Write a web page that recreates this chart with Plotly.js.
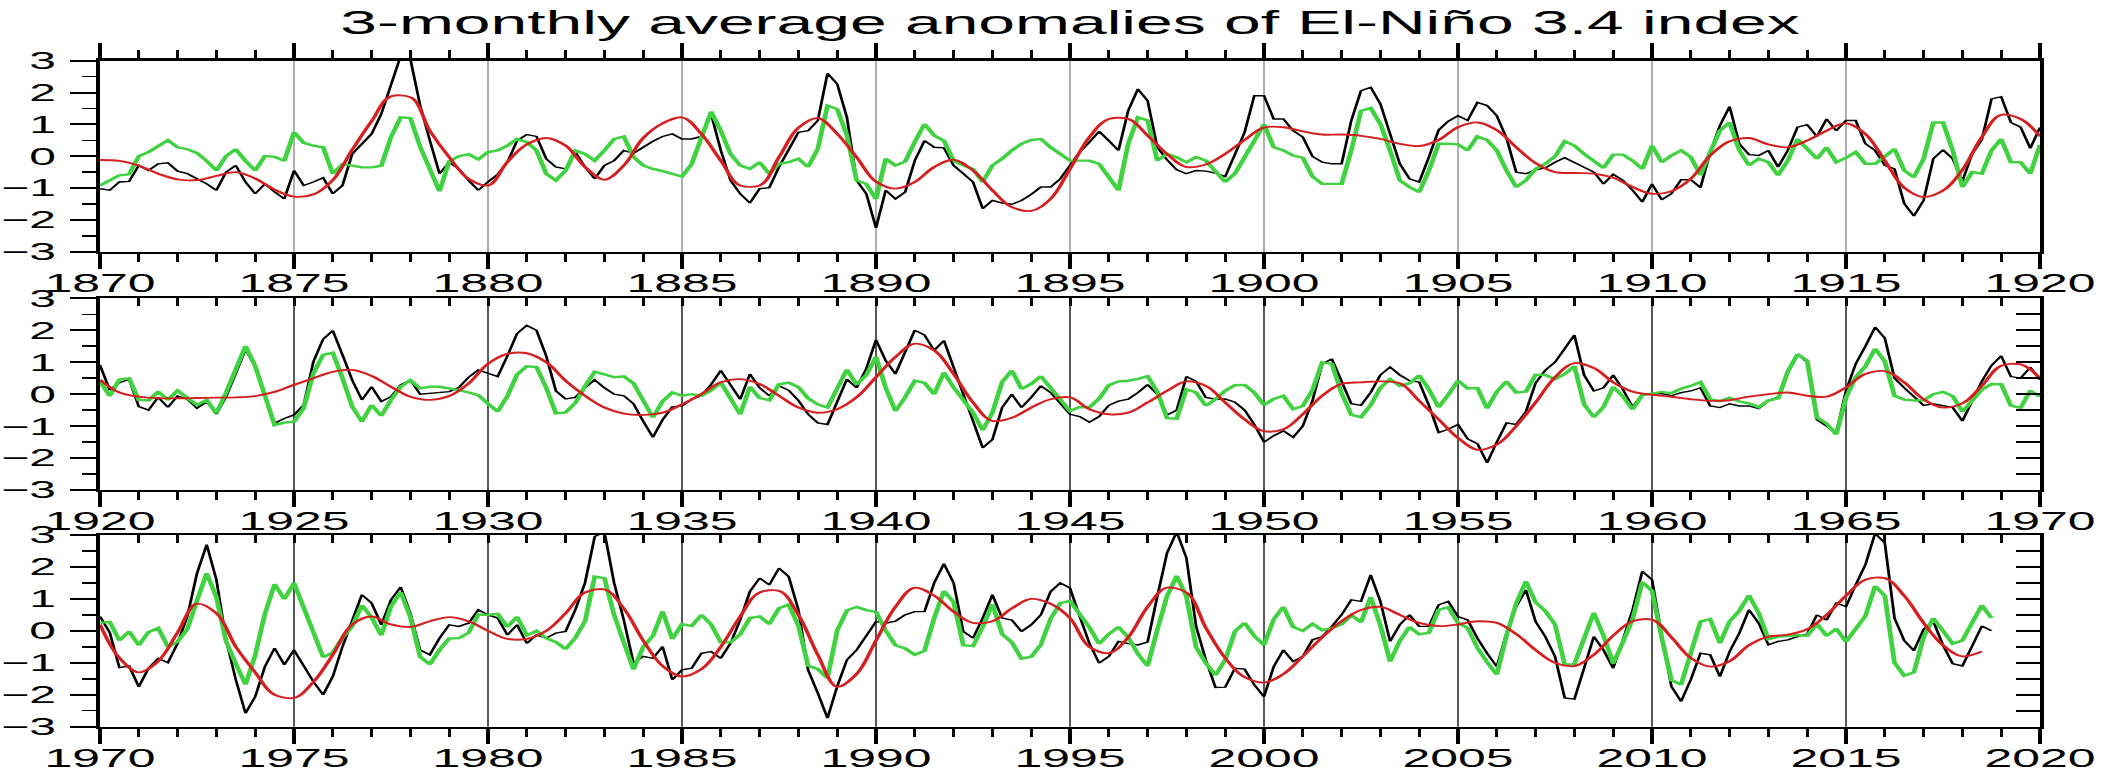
<!DOCTYPE html>
<html>
<head>
<meta charset="utf-8">
<script src="https://cdn.plot.ly/plotly-3.0.1.min.js"></script>
<style>
  html, body { margin: 0; padding: 0; background: #fff; overflow: hidden; }
  /* the figure is laid out at half width and stretched horizontally */
  #chart { width: 1059px; height: 773px; transform: scaleX(2); transform-origin: 0 0; }
</style>
</head>
<body>
<div id="chart"></div>
<script>
// Niño 3.4 3-monthly anomalies (quarterly steps), their low-pass part (half-year steps)
// and the high-pass remainder (quarterly steps), one set per 50-year panel.

const anomaly1870 = [
 -1.02,-1.07,-0.81,-0.79, -0.29,-0.45,-0.24,-0.21, -0.47,-0.55,-0.71,-0.87, -1.07,-0.5,-0.29,-0.81,
 -1.18,-0.87,-1.12,-1.34, -0.45,-0.92,-0.81,-0.68, -1.18,-0.92,0.07,0.39, 0.7,1.33,2.3,3.15,
 3.05,1.6,0.5,-0.55, -0.19,-0.4,-0.76,-1.07, -0.81,-0.57,-0.19,0.49, 0.68,0.62,-0.08,-0.34,
 -0.4,0.13,-0.34,-0.71, -0.29,-0.14,0.18,0.09, 0.28,0.47,0.62,0.7, 0.54,0.54,0.62,1.33,
 0.18,-0.76,-1.18,-1.47, -1.02,-0.99,-0.34,0.18, 0.75,0.8,1.12,2.6, 2.27,1.22,-0.76,-1.18,
 -2.25,-1.07,-1.34,-1.13, -0.14,0.49,0.28,0.26, -0.29,-0.55,-0.81,-1.65, -1.39,-1.47,-1.51,-1.39,
 -1.2,-0.97,-0.97,-0.71, -0.29,0.13,0.44,0.78, 0.49,0.18,1.43,2.11, 1.74,0.28,-0.11,-0.43,
 -0.55,-0.45,-0.47,-0.53, -0.64,0.07,0.75,1.9, 1.9,1.17,1.17,0.8, 0.6,-0.01,-0.19,-0.24,
 -0.24,1.12,2.06,2.16, 1.64,0.7,-0.24,-0.71, -0.81,-0.03,0.82,1.1, 1.27,1.12,1.69,1.59,
 1.27,0.57,-0.5,-0.55, -0.43,-0.37,-0.19,-0.05, -0.19,-0.34,-0.5,-0.87, -0.57,-0.76,-1.07,-1.44,
 -0.87,-1.37,-1.18,-0.74, -0.74,-0.99,0.13,0.96, 1.56,0.39,0.05,0.02, 0.18,-0.34,0.18,0.91,
 0.99,0.62,1.17,0.8, 1.12,1.12,0.39,0.18, -0.29,-0.4,-1.49,-1.88, -1.39,-0.08,0.2,-0.08,
 -0.78,0.07,0.51,1.8, 1.87,1.06,0.91,0.25, 0.9
];
const lowpass1870 = [
 -0.12,-0.15, -0.3,-0.55, -0.73,-0.75, -0.62,-0.5, -0.7,-1.05, -1.27,-1.2, -0.75,0.2, 1.1,1.88,
 1.85,0.8, -0.03,-0.71, -0.92,-0.18, 0.37,0.57, 0.33,-0.34, -0.74,-0.29, 0.57,1.03, 1.22,0.7,
 -0.14,-0.92, -0.92,-0.03, 0.89,1.2, 0.7,-0.03, -0.8,-1.02, -0.81,-0.34, -0.11,-0.45, -1.07,-1.6,
 -1.72,-1.34, -0.4,0.6, 1.17,1.17, 0.65,0.07, -0.34,-0.26, 0.07,0.51, 0.9,0.91, 0.78,0.68,
 0.68,0.64, 0.54,0.39, 0.32,0.51, 0.91,1.06, 0.82,0.28, -0.22,-0.5, -0.53,-0.55, -0.68,-0.97,
 -1.18,-1.1, -0.71,0.02, 0.47,0.57, 0.37,0.28, 0.49,0.8, 1.03,0.7, -0.14,-0.99, -1.28,-1.08,
 -0.43,0.6, 1.3,1.17, 0.62
];
const highpass1870 = [
 -0.92,-0.75,-0.6,-0.57, 0.0,0.13,0.33,0.5, 0.28,0.22,0.1,-0.15, -0.45,0.0,0.22,-0.15,
 -0.45,0.0,-0.02,-0.15, 0.75,0.42,0.33,0.28, -0.55,-0.25,-0.3,-0.35, -0.35,-0.3,0.6,1.22,
 1.2,0.3,-0.4,-1.1, -0.16,0.0,0.06,-0.1, 0.13,0.18,0.33,0.54, 0.44,0.18,-0.55,-0.76,
 -0.45,0.18,0.07,-0.14, 0.18,0.54,0.62,-0.03, -0.29,-0.4,-0.47,-0.55, -0.64,-0.24,0.54,1.4,
 0.8,0.07,-0.29,-0.4, -0.19,-0.55,-0.24,-0.19, -0.08,-0.34,0.23,1.59, 1.48,0.65,-0.76,-0.87,
 -1.35,-0.08,-0.29,-0.17, 0.45,1.01,0.65,0.49, -0.14,-0.29,-0.4,-0.81, -0.29,-0.08,0.18,0.39,
 0.51,0.54,0.28,0.07, -0.14,-0.14,-0.14,-0.24, -0.66,-1.07,0.39,1.22, 1.12,-0.14,0.07,-0.03,
 -0.19,-0.03,-0.14,-0.5, -0.81,-0.55,-0.03,0.49, 1.0,0.28,0.18,0.02, -0.05,-0.64,-0.87,-0.87,
 -0.87,0.18,1.43,1.51, 1.01,0.18,-0.76,-0.97, -1.13,-0.45,0.39,0.39, 0.37,0.18,0.62,0.51,
 0.18,-0.45,-0.97,-0.76, -0.4,-0.24,-0.01,0.47, 0.33,0.07,-0.14,-0.37, 0.05,0.05,-0.14,-0.4,
 0.33,-0.19,0.02,0.18, -0.03,-0.6,0.13,0.8, 1.06,0.18,-0.29,-0.08, -0.19,-0.6,-0.14,0.54,
 0.23,-0.08,0.28,-0.19, -0.05,0.13,-0.24,-0.24, -0.01,0.23,-0.45,-0.66, -0.08,1.06,1.06,0.18,
 -0.97,-0.5,-0.55,0.18, 0.54,-0.19,-0.19,-0.55, 0.35
];

const anomaly1920 = [
 0.91,0.13,0.36,0.46, -0.39,-0.5,-0.1,-0.41, -0.06,-0.16,-0.44,-0.23, -0.62,-0.08,0.65,1.4,
 0.86,0.03,-0.91,-0.76, -0.65,-0.34,1.02,1.72, 1.99,1.23,0.44,-0.18, 0.23,-0.23,-0.08,0.29,
 0.44,0.0,0.03,0.05, 0.08,0.21,0.53,0.76, 0.65,0.55,1.2,1.9, 2.15,2.0,1.2,0.1,
 -0.15,-0.1,0.2,0.45, 0.2,0.0,-0.05,-0.3, -0.85,-1.35,-0.8,-0.4, -0.37,-0.16,-0.05,0.3,
 0.74,0.26,-0.16,0.63, 0.2,-0.05,0.26,0.12, -0.2,-0.63,-0.9,-0.95, -0.26,0.47,0.2,0.8,
 1.7,1.05,0.63,1.3, 2.0,1.85,1.37,1.68, 0.84,0.0,-0.84,-1.68, -1.42,-0.42,0.0,-0.42,
 -0.1,0.26,0.05,-0.3, -0.63,-0.7,-0.88,-0.7, -0.35,-0.22,-0.16,0.05, 0.3,0.0,-0.65,-0.5,
 0.55,0.4,-0.1,-0.16, -0.15,-0.25,-0.5,-0.95, -1.5,-1.3,-1.15,-1.35, -1.0,-0.2,0.95,1.1,
 0.35,-0.3,-0.35,0.05, 0.6,0.85,0.6,0.42, 0.38,-0.35,-1.2,-1.1, -0.95,-1.4,-1.55,-2.15,
 -1.5,-0.9,-0.95,-0.55, 0.35,0.75,1.0,1.4, 1.85,0.6,0.1,0.2, 0.6,0.15,-0.4,0.0,
 0.0,0.02,-0.05,0.05, 0.1,0.2,-0.37,-0.42, -0.3,-0.37,-0.37,-0.45, -0.2,-0.1,0.75,1.25,
 1.0,-0.8,-1.0,-1.2, 0.1,0.95,1.5,2.1, 1.75,0.5,0.2,-0.1, -0.35,-0.3,-0.35,-0.42,
 -0.84,-0.2,0.4,0.9, 1.2,0.55,0.5,0.84, 0.45
];
const lowpass1920 = [
 0.45,0.05, -0.08,-0.13, -0.13,-0.12, -0.11,-0.1, -0.06,0.07, 0.29,0.5, 0.7,0.76, 0.57,0.23,
 -0.08,-0.18, -0.06,0.33, 0.95,1.26, 1.28,1.0, 0.42,-0.05, -0.42,-0.61, -0.65,-0.58, -0.32,0.0,
 0.37,0.47, 0.32,-0.05, -0.42,-0.58, -0.47,-0.1, 0.53,1.16, 1.58,1.37, 0.63,-0.26, -0.84,-0.74,
 -0.42,-0.16, -0.1,-0.47, -0.63,-0.58, -0.26,0.1, 0.4,0.26, -0.26,-0.79, -1.16,-1.1, -0.63,-0.05,
 0.32,0.37, 0.4,0.34, -0.21,-0.79, -1.37,-1.74, -1.58,-1.0, -0.26,0.53, 0.97,0.82, 0.37,0.08,
 -0.02,-0.08, -0.16,-0.21, -0.19,-0.08, 0.0,0.05, -0.05,-0.08, 0.21,0.63, 0.72,0.37, -0.16,-0.42,
 -0.29,0.26, 0.89,0.93, 0.5
];
const highpass1920 = [
 0.4,-0.06,0.46,0.5, -0.18,-0.2,0.08,-0.18, 0.11,-0.1,-0.34,-0.18, -0.6,0.05,0.76,1.51,
 0.88,-0.06,-0.97,-0.89, -0.86,-0.44,0.65,1.23, 1.3,0.5,-0.39,-0.86, -0.34,-0.68,-0.18,0.23,
 0.44,0.18,0.23,0.23, 0.18,0.13,0.05,-0.03, -0.3,-0.55,-0.06,0.62, 0.87,0.85,0.2,-0.6,
 -0.57,-0.28,0.25,0.7, 0.62,0.53,0.56,0.34, -0.2,-0.73,-0.22,0.05, -0.05,0.0,-0.05,0.11,
 0.37,-0.17,-0.63,0.23, -0.12,-0.19,0.31,0.36, 0.22,-0.13,-0.32,-0.42, 0.21,0.77,0.3,0.6,
 1.17,0.2,-0.53,-0.1, 0.42,0.35,0.0,0.68, 0.21,-0.2,-0.58,-1.13, -0.58,0.38,0.74,0.16,
 0.32,0.56,0.21,-0.17, -0.53,-0.4,-0.41,-0.14, 0.28,0.4,0.42,0.48, 0.56,0.08,-0.75,-0.77,
 0.15,0.05,-0.36,-0.16, 0.11,0.28,0.29,0.05, -0.34,-0.15,-0.05,-0.47, -0.37,0.13,1.0,0.95,
 0.03,-0.65,-0.72,-0.34, 0.2,0.47,0.26,0.34, 0.59,0.15,-0.41,-0.02, 0.42,0.18,0.19,-0.45,
 0.08,0.4,0.05,0.08, 0.61,0.6,0.47,0.63, 0.88,-0.32,-0.72,-0.4, 0.23,-0.07,-0.48,-0.03,
 0.02,0.07,0.03,0.17, 0.26,0.38,-0.16,-0.22, -0.11,-0.23,-0.29,-0.41, -0.2,-0.13,0.7,1.25,
 1.05,-0.73,-0.92,-1.26, -0.11,0.53,0.87,1.42, 1.03,-0.05,-0.17,-0.2, -0.19,0.0,0.07,-0.06,
 -0.55,-0.2,0.14,0.32, 0.31,-0.36,-0.43,0.11, -0.08
];

const anomaly1970 = [
 0.45,-0.05,-1.15,-1.1, -1.75,-1.17,-0.86,-1.0, -0.39,0.45,1.8,2.7, 1.6,-0.28,-1.53,-2.58,
 -2.06,-1.12,-0.54,-1.06, -0.6,-1.12,-1.59,-2.0, -1.43,-0.49,0.34,1.13, 0.87,0.19,0.97,1.37,
 0.55,-0.6,-0.75,-0.23, 0.19,0.14,0.24,0.66, 0.5,0.4,-0.13,0.19, -0.39,-0.13,-0.23,-0.07,
 -0.02,0.66,1.5,2.95, 3.1,1.5,0.34,-1.01, -0.8,-0.86,-0.49,-1.53, -1.22,-1.17,-0.7,-0.65,
 -0.86,-0.39,0.34,1.23, 1.65,1.44,1.96,1.7, 0.66,-1.22,-1.95,-2.73, -1.74,-0.91,-0.6,-0.18,
 0.29,0.24,0.3,0.5, 0.6,0.6,1.5,2.1, 1.5,-0.02,-0.23,0.4, 1.13,0.4,0.34,-0.02,
 0.19,0.5,1.23,1.5, 1.34,0.45,-0.39,-1.01, -0.8,-0.33,-0.4,-0.44, -0.35,1.08,2.43,3.1,
 2.28,0.14,-0.91,-1.77, -1.76,-1.17,-1.2,-1.69, -2.06,-1.12,-0.6,-0.96, -0.8,-0.28,-0.18,0.14,
 0.5,0.97,0.92,1.75, 0.92,-0.33,0.19,0.5, 0.14,0.14,0.81,0.92, 0.45,0.34,-0.23,-0.7,
 -1.12,-0.07,0.76,1.28, 0.29,-0.18,-0.8,-2.1, -2.14,-1.17,-0.18,-0.6, -1.17,-0.28,0.66,1.86,
 1.6,-0.13,-1.74,-2.21, -1.53,-0.7,-0.75,-1.43, -0.65,-0.07,0.66,0.24, -0.44,-0.33,-0.28,-0.18,
 -0.1,0.5,0.34,0.87, 0.76,1.44,2.07,3.05, 2.75,0.4,-0.3,-0.62, 0.05,0.3,-0.45,-1.03,
 -1.1,-0.48,0.15,0.0
];
const lowpass1970 = [
 0.2,-0.85, -1.3,-0.95, -0.05,0.85, 0.55,-0.5, -1.3,-2.0, -2.1,-1.6, -0.75,0.2, 0.45,0.2,
 0.12,0.3, 0.43,0.3, 0.0,-0.25, -0.25,0.0, 0.55,1.2, 1.3,0.7, -0.3,-1.1, -1.43,-1.2,
 -0.5,0.45, 1.2,1.25, 0.5,-0.75, -1.75,-1.35, -0.3,0.75, 1.35,1.1, 0.6,0.25, 0.3,0.7,
 1.0,0.85, 0.4,-0.5, -0.7,-0.2, 0.75,1.35, 1.2,0.1, -0.85,-1.45, -1.62,-1.35, -0.8,-0.2,
 0.3,0.65, 0.75,0.5, 0.25,0.15, 0.2,0.3, 0.25,-0.1, -0.6,-1.0, -1.1,-0.75, -0.15,0.3,
 0.35,-0.2, -0.85,-1.12, -0.95,-0.45, -0.18,-0.12, 0.05,0.5, 1.1,1.6, 1.65,1.1, 0.25,-0.45,
 -0.8,-0.65
];
const highpass1970 = [
 0.25,0.28,-0.3,-0.02, -0.45,-0.04,0.09,-0.5, -0.34,0.05,0.95,1.8, 1.05,-0.33,-1.03,-1.68,
 -0.76,0.53,1.46,0.99, 1.5,0.73,0.01,-0.82, -0.68,-0.21,0.14,0.8, 0.42,-0.14,0.77,1.21,
 0.43,-0.81,-1.05,-0.6, -0.24,-0.23,-0.06,0.51, 0.5,0.53,0.12,0.44, -0.14,0.0,-0.23,-0.35,
 -0.57,-0.22,0.3,1.7, 1.65,0.5,-0.36,-1.21, -0.5,-0.16,0.61,-0.26, 0.21,0.15,0.5,0.2,
 -0.36,-0.36,-0.11,0.4, 0.45,0.21,0.71,0.82, 0.16,-1.09,-1.2,-1.48, 0.01,0.64,0.75,0.65,
 0.59,0.01,-0.45,-0.55, -0.75,-0.63,0.4,1.25, 0.9,-0.45,-0.48,0.12, 0.83,-0.1,-0.36,-0.87,
 -0.81,-0.43,0.38,0.87, 0.94,0.5,0.11,-0.41, -0.1,0.12,-0.2,-0.72, -1.1,0.03,1.08,1.72,
 1.08,-0.51,-1.01,-1.39, -0.91,-0.02,0.25,-0.16, -0.44,0.36,0.75,0.12, 0.0,0.22,0.02,0.09,
 0.2,0.49,0.27,1.05, 0.17,-0.96,-0.31,0.12, -0.11,-0.06,0.66,0.74, 0.25,0.09,-0.53,-0.98,
 -1.37,-0.15,0.86,1.55, 0.89,0.62,0.2,-1.05, -1.04,-0.24,0.57,-0.15, -1.02,-0.36,0.36,1.53,
 1.25,-0.21,-1.54,-1.68, -0.68,0.29,0.37,-0.39, 0.3,0.63,1.11,0.56, -0.26,-0.18,-0.16,-0.14,
 -0.15,0.22,-0.16,0.07, -0.34,0.09,0.47,1.4, 1.1,-1.0,-1.4,-1.3, -0.2,0.4,0.0,-0.4,
 -0.3,0.25,0.8,0.4
];

const panelStarts = [1870, 1920, 1970];
const panelEnds = [1920, 1970, 2020];
const anomalySets = [anomaly1870, anomaly1920, anomaly1970];
const lowpassSets = [lowpass1870, lowpass1920, lowpass1970];
const highpassSets = [highpass1870, highpass1920, highpass1970];
const gridColours = ['#8e8e8e', '#111111', '#111111'];
const yTickValues = [-3, -2, -1, 0, 1, 2, 3];

const QUARTER = 0.25, HALF_YEAR = 0.5;
function timeAxis(start, step, n) {
  const t = [];
  for (let i = 0; i < n; i++) t.push(start + i * step);
  return t;
}

const FONT = 'Liberation Sans, Arial, Helvetica, sans-serif';
const BLACK = '#000000', RED = '#d42020', GREEN = '#40d240';
const domains = [[0.6744, 0.9215], [0.3661, 0.6141], [0.0599, 0.3079]];

const traces = [];
const layout = {
  width: 1059, height: 773,
  margin: {l: 50, r: 39, t: 0, b: 0, pad: 0},
  paper_bgcolor: '#ffffff', plot_bgcolor: '#ffffff',
  showlegend: false,
  font: {family: FONT, color: '#000'},
  title: {
    text: '3-monthly average anomalies of El-Niño 3.4 index',
    font: {family: FONT, size: 33, color: '#000'},
    x: 0.5, xref: 'paper', xanchor: 'center',
    y: 1 - 22 / 773, yref: 'container', yanchor: 'middle'
  }
};

panelStarts.forEach((start, k) => {
  const sx = k === 0 ? '' : String(k + 1);
  const xName = 'x' + sx, yName = 'y' + sx;
  const n = anomalySets[k].length;

  traces.push({
    x: timeAxis(start, QUARTER, n), y: anomalySets[k],
    xaxis: xName, yaxis: yName, type: 'scatter', mode: 'lines',
    line: {color: BLACK, width: 1.4}, hoverinfo: 'x+y', name: 'Niño 3.4'
  });
  traces.push({
    x: timeAxis(start, QUARTER, highpassSets[k].length), y: highpassSets[k],
    xaxis: xName, yaxis: yName, type: 'scatter', mode: 'lines',
    line: {color: GREEN, width: 2.4}, hoverinfo: 'x+y', name: 'high-pass'
  });
  traces.push({
    x: timeAxis(start, HALF_YEAR, lowpassSets[k].length), y: lowpassSets[k],
    xaxis: xName, yaxis: yName, type: 'scatter', mode: 'lines',
    line: {color: RED, width: 1.9, shape: 'spline', smoothing: 1}, hoverinfo: 'x+y', name: 'low-pass'
  });

  layout['xaxis' + sx] = {
    domain: [0, 1], anchor: yName,
    range: [start, panelEnds[k]], autorange: false, fixedrange: true,
    tick0: start, dtick: 5, tickmode: 'linear',
    ticks: 'outside', ticklen: 15, tickwidth: 2, tickcolor: '#000',
    minor: {dtick: 1, ticks: 'outside', ticklen: 8, tickwidth: 1.5, tickcolor: '#000', showgrid: false},
    showline: true, linewidth: 2.2, linecolor: '#000',
    mirror: k === 0 ? 'ticks' : true,
    showgrid: true, gridcolor: gridColours[k], gridwidth: 0.7,
    zeroline: false,
    tickfont: {family: FONT, size: 25, color: '#000'},
    ticklabelstandoff: -7
  };
  layout['yaxis' + sx] = {
    domain: domains[k], anchor: xName,
    range: [-3, 3], autorange: false, fixedrange: true,
    tickmode: 'array', tickvals: yTickValues,
    ticks: 'outside', ticklen: 13, tickwidth: 2, tickcolor: '#000',
    minor: {dtick: 0.5, ticks: 'outside', ticklen: 7, tickwidth: 1.5, tickcolor: '#000', showgrid: false},
    showline: true, linewidth: 2.2, linecolor: '#000', mirror: true,
    showgrid: false, zeroline: false,
    tickfont: {family: FONT, size: 24, color: '#000'},
    ticklabelstandoff: 2
  };

  if (k > 0) {
    // inward year ticks along the top edge and half-unit ticks along the right edge
    const topName = 'x' + (k + 3), rightName = 'y' + (k + 3);
    layout['xaxis' + (k + 3)] = {
      overlaying: xName, anchor: yName, side: 'top',
      range: [start, panelEnds[k]], autorange: false, fixedrange: true,
      tick0: start, dtick: 1, tickmode: 'linear',
      ticks: 'inside', ticklen: 8, tickwidth: 1.5, tickcolor: '#000',
      showticklabels: false, showline: false, showgrid: false, zeroline: false
    };
    layout['yaxis' + (k + 3)] = {
      overlaying: yName, anchor: xName, side: 'right',
      range: [-3, 3], autorange: false, fixedrange: true,
      tick0: -3, dtick: 0.5, tickmode: 'linear',
      ticks: 'inside', ticklen: 12, tickwidth: 2, tickcolor: '#000',
      showticklabels: false, showline: false, showgrid: false, zeroline: false
    };
    traces.push({x: [], y: [], xaxis: topName, yaxis: yName, type: 'scatter', mode: 'lines', hoverinfo: 'skip'});
    traces.push({x: [], y: [], xaxis: xName, yaxis: rightName, type: 'scatter', mode: 'lines', hoverinfo: 'skip'});
  }
});

Plotly.newPlot('chart', traces, layout, {displayModeBar: false, staticPlot: true});
</script>
</body>
</html>
